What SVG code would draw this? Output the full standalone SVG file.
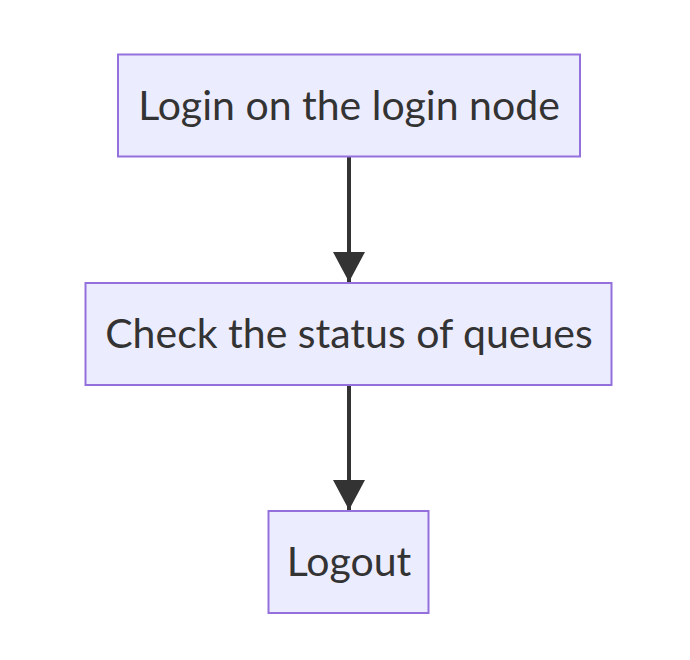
<svg xmlns="http://www.w3.org/2000/svg" width="690" height="660" viewBox="0 0 690 660">
<defs>
<style>
.node rect{fill:#ECECFF;stroke:#9370DB;stroke-width:2}
.node text{font-family:Lato,"Open Sans",sans-serif;font-size:41px;fill:#333;text-anchor:middle}
.edge{stroke:#333;stroke-width:4;fill:none}
</style>
<marker id="arrow" viewBox="0 0 30 32" refX="30" refY="16" markerWidth="30" markerHeight="32" markerUnits="userSpaceOnUse" orient="auto">
<path d="M0,0 L30,16 L0,32 Z" fill="#333"/>
</marker>
</defs>
<rect width="690" height="660" fill="#fff"/>
<g id="edges">
<path class="edge" d="M349,157 L349,282" marker-end="url(#arrow)"/>
<path class="edge" d="M349,385 L349,510" marker-end="url(#arrow)"/>
</g>
<g id="n1" class="node">
<rect x="118" y="54.5" width="462" height="102"/>
<text x="349" y="120">Login on the login node</text>
</g>
<g id="n2" class="node">
<rect x="85.5" y="283" width="526" height="102"/>
<text x="349" y="348">Check the status of queues</text>
</g>
<g id="n3" class="node">
<rect x="268.5" y="511" width="160" height="102"/>
<text x="349" y="576">Logout</text>
</g>
</svg>
